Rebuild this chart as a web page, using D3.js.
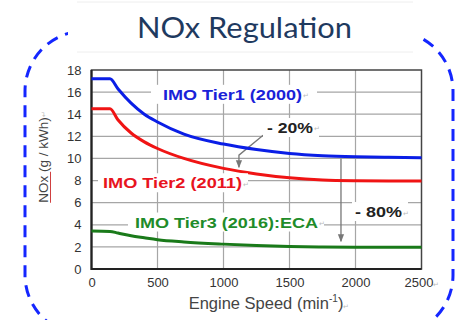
<!DOCTYPE html>
<html>
<head>
<meta charset="utf-8">
<script src="https://cdn.jsdelivr.net/npm/d3@7"></script>
<style>
  html, body { margin: 0; padding: 0; background: #fff; }
  svg { display: block; }
</style>
</head>
<body>
<div id="chart"></div>
<script>
// engine speed (min-1) and NOx limits (g/kWh)
var speed = [0, 140, 200, 300, 400, 500, 700, 1000, 1250, 1500, 1750, 2000, 2250, 2500];
var tier1 = [17.2, 17.2, 16.3, 15.0, 14.0, 13.3, 12.2, 11.3, 10.8, 10.45, 10.25, 10.15, 10.1, 10.07];
var tier2 = [14.5, 14.5, 13.5, 12.3, 11.5, 10.9, 10.0, 9.1, 8.6, 8.25, 8.05, 7.98, 7.96, 7.96];
var tier3 = [3.44, 3.4, 3.25, 3.0, 2.82, 2.65, 2.45, 2.25, 2.12, 2.03, 1.99, 1.97, 1.96, 1.96];
var xTicks = [0, 500, 1000, 1500, 2000, 2500];
var yTicks = [0, 2, 4, 6, 8, 10, 12, 14, 16, 18];
var seriesNames = ['IMO Tier1 (2000)', 'IMO Tier2 (2011)', 'IMO Tier3 (2016):ECA'];

var width = 456, height = 320;
var plot = { left: 91.5, right: 421.5, top: 70, bottom: 269 };
var sans = '"Liberation Sans", Arial, sans-serif';

var svg = d3.select('#chart').append('svg')
    .attr('width', width)
    .attr('height', height);

var x = d3.scaleLinear().domain([0, 2500]).range([plot.left, plot.right]);
var y = d3.scaleLinear().domain([0, 18]).range([plot.bottom, plot.top]);

// faint slide lines and dashed frame
svg.selectAll('line.faint').data([2, 52]).enter().append('line')
    .attr('x1', 77).attr('x2', 413)
    .attr('y1', function (d) { return d; }).attr('y2', function (d) { return d; })
    .attr('stroke', '#eeeeee').attr('stroke-width', 1);

svg.append('rect')
    .attr('x', 25).attr('y', 31)
    .attr('width', 428).attr('height', 304)
    .attr('rx', 60).attr('ry', 60)
    .attr('fill', 'none')
    .attr('stroke', '#1426ff')
    .attr('stroke-width', 3)
    .attr('stroke-dasharray', '12,8');

// white strip behind title
svg.append('rect')
    .attr('x', 68).attr('y', 20).attr('width', 352).attr('height', 22)
    .attr('fill', '#fff');

svg.append('text')
    .attr('x', 137).attr('y', 38)
    .attr('textLength', 215)
    .attr('lengthAdjust', 'spacingAndGlyphs')
    .style('font-family', 'Lato, "Open Sans", sans-serif')
    .style('font-size', '29px')
    .attr('fill', '#1f3a5f')
    .text('NOx Regulation');

// plot background + grid
svg.append('rect')
    .attr('x', plot.left).attr('y', plot.top)
    .attr('width', plot.right - plot.left).attr('height', plot.bottom - plot.top)
    .attr('fill', '#fff');

var grid = svg.append('g');
grid.selectAll('line.h').data(yTicks.slice(1, -1)).enter().append('line')
    .attr('x1', plot.left).attr('x2', plot.right)
    .attr('y1', function (d) { return y(d); }).attr('y2', function (d) { return y(d); })
    .attr('stroke', '#a6a6a6').attr('stroke-width', 1.2);
grid.selectAll('line.v').data(xTicks.slice(1, -1)).enter().append('line')
    .attr('y1', plot.top).attr('y2', plot.bottom)
    .attr('x1', function (d) { return x(d); }).attr('x2', function (d) { return x(d); })
    .attr('stroke', '#a6a6a6').attr('stroke-width', 1.2);

// axes
var tickFont = function (sel) {
    sel.selectAll('text')
        .style('font-family', sans)
        .style('font-size', '13px')
        .attr('fill', '#333');
};
var yAxis = svg.append('g')
    .attr('transform', 'translate(' + plot.left + ',0)')
    .call(d3.axisLeft(y).tickValues(yTicks).tickSize(0).tickPadding(10));
yAxis.select('.domain').remove();
tickFont(yAxis);

var xAxis = svg.append('g')
    .attr('transform', 'translate(0,' + plot.bottom + ')')
    .call(d3.axisBottom(x).tickValues(xTicks).tickFormat(d3.format('d')).tickSize(0).tickPadding(9));
xAxis.select('.domain').remove();
tickFont(xAxis);
xAxis.selectAll('text').filter(function (d) { return d === 2500; })
    .append('tspan').style('font-size', '7px').attr('fill', '#bbb').text('\u21b5');

// frame
svg.append('rect')
    .attr('x', plot.left).attr('y', plot.top)
    .attr('width', plot.right - plot.left).attr('height', plot.bottom - plot.top)
    .attr('fill', 'none').attr('stroke', '#444').attr('stroke-width', 1.5);
svg.append('path')
    .attr('d', 'M' + plot.left + ',' + plot.top + 'V' + plot.bottom + 'H' + plot.right)
    .attr('fill', 'none').attr('stroke', '#222').attr('stroke-width', 2.2);

// bold label on a white box, stretched to the width seen in the picture
function boxedLabel(txt, left, cy, w, color, padL, padR) {
    var g = svg.append('g');
    var bg = g.append('rect').attr('fill', '#fff');
    var t = g.append('text')
        .attr('x', left).attr('y', cy)
        .attr('dominant-baseline', 'central')
        .attr('textLength', w)
        .attr('lengthAdjust', 'spacingAndGlyphs')
        .style('font-family', sans)
        .style('font-size', '15.5px')
        .style('font-weight', 'bold')
        .attr('fill', color)
        .text(txt);
    g.append('text')
        .attr('x', left + w + 1).attr('y', cy + 4)
        .style('font-family', sans)
        .style('font-size', '7px')
        .attr('fill', '#bbb')
        .text('\u21b5');
    var b = t.node().getBBox();
    bg.attr('x', left - padL).attr('y', b.y - 1)
        .attr('width', w + padL + padR).attr('height', b.height + 2);
    return g;
}

var lineGen = d3.line()
    .x(function (d) { return x(d[0]); })
    .y(function (d) { return y(d[1]); })
    .curve(d3.curveMonotoneX);

var series = [
    { name: seriesNames[0], values: tier1, color: '#0a1ee6', text: '#1a22d8' },
    { name: seriesNames[1], values: tier2, color: '#f01414', text: '#e8141e' },
    { name: seriesNames[2], values: tier3, color: '#1a7a1a', text: '#1f8c2a' }
];

// arrows
var defs = svg.append('defs');
defs.append('marker')
    .attr('id', 'ah').attr('viewBox', '0 0 10 10')
    .attr('refX', 9).attr('refY', 5)
    .attr('markerWidth', 6).attr('markerHeight', 6)
    .attr('orient', 'auto')
    .append('path').attr('d', 'M0,1L10,5L0,9Z').attr('fill', '#777');

var arrow20 = [[1300, 12.1], [1117, 10.3], [1117, 9.2]];
var arrow80 = [[1890, 10.0], [1890, 2.5]];
[arrow20, arrow80].forEach(function (a) {
    svg.append('path')
        .attr('d', d3.line().x(function (d) { return x(d[0]); }).y(function (d) { return y(d[1]); })(a))
        .attr('fill', 'none').attr('stroke', '#777').attr('stroke-width', 1.3)
        .attr('marker-end', 'url(#ah)');
});

series.forEach(function (s) {
    svg.append('path')
        .datum(speed.map(function (n, i) { return [n, s.values[i]]; }))
        .attr('d', lineGen)
        .attr('fill', 'none')
        .attr('stroke', s.color)
        .attr('stroke-width', 3);
});

boxedLabel(seriesNames[0], 163, y(15.8), 139, series[0].text, 12, 15);
boxedLabel(seriesNames[1], 103, y(7.8), 139, series[1].text, 5, 6);
boxedLabel(seriesNames[2], 135, y(4.25), 183, series[2].text, 7, 6);
boxedLabel('- 20%', 267, y(12.8), 46, '#222', 4, 6);
boxedLabel('- 80%', 355, y(5.2), 47, '#222', 3, 6);

// axis titles
var yt = svg.append('g').attr('transform', 'translate(43,157) rotate(-90)');
var ytt = yt.append('text')
    .attr('text-anchor', 'middle')
    .attr('dominant-baseline', 'central')
    .style('font-family', sans)
    .style('font-size', '13.5px')
    .attr('fill', '#444')
    .text('NOx (g / kWh)');
ytt.append('tspan').style('font-size', '7px').attr('fill', '#bbb').text('\u21b5');
var yb = ytt.node().getBBox();
yt.append('line')
    .attr('x1', yb.x).attr('x2', yb.x + 31)
    .attr('y1', 7.5).attr('y2', 7.5)
    .attr('stroke', '#d04040').attr('stroke-width', 1);

var xt = svg.append('text')
    .attr('x', 269).attr('y', 309)
    .attr('text-anchor', 'middle')
    .style('font-family', sans)
    .style('font-size', '16.5px')
    .attr('fill', '#444');
xt.append('tspan').text('Engine Speed (min');
xt.append('tspan').attr('dy', -7).style('font-size', '10px').text('-1');
xt.append('tspan').attr('dy', 7).text(')');
xt.append('tspan').style('font-size', '7px').attr('fill', '#bbb').text('\u21b5');
</script>
</body>
</html>
